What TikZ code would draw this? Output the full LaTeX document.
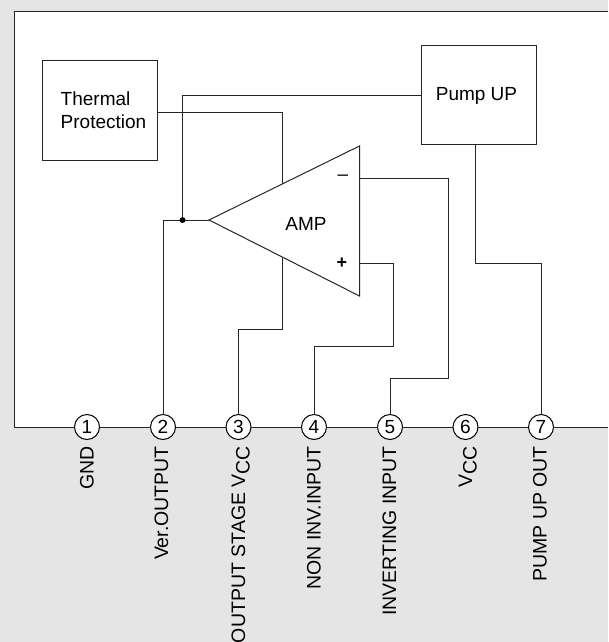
\documentclass[tikz,border=0pt]{standalone}
\usepackage{fontspec}
\setmainfont{Liberation Sans}
\tikzset{
  wire/.style={draw=black!85,line width=1pt},
  blockbox/.style={draw=black!85,line width=1pt,fill=white,inner sep=0pt},
  pin/.style={circle,draw=black,line width=1pt,fill=white,minimum size=25pt,inner sep=0pt,font=\fontsize{19}{20}\selectfont},
  caption/.style={inner sep=0pt,font=\fontsize{19}{23}\selectfont},
  pinlabel/.style={inner sep=0pt,font=\fontsize{19.5}{23}\selectfont,rotate=90,anchor=base east},
}
\newcommand{\vccsub}{V\raisebox{-4.5pt}{CC}}
\begin{document}
\begin{tikzpicture}[x=1pt,y=-1pt]
\useasboundingbox (0,0) rectangle (608,642);
\fill[black!10] (0,0) rectangle (608,642);
\fill[white] (14,11.5) rectangle (608,427);
\draw[wire] (608,11.5) -- (14.5,11.5) -- (14.5,427.5) -- (608,427.5);
% blocks
\node[blockbox,minimum width=115pt,minimum height=99pt] (thermal) at (99.5,110.5) {};
\node[blockbox,minimum width=115pt,minimum height=98.5pt] (pump) at (478.5,95) {};
\node[caption,align=left] (thermaltext) at (103.5,110.5) {Thermal\\Protection};
\node[caption,anchor=base] (pumptext) at (476.5,100.5) {Pump UP};
% amplifier
\coordinate (tip) at (209,220);
\coordinate (top) at (359.5,146);
\coordinate (bot) at (359.5,296);
\draw[wire,fill=white,line join=miter] (tip) -- (top) -- (bot) -- cycle;
\node[caption] (amp) at (306,224) {AMP};
\node[caption] (minus) at (343,177.5) {–};
\node[caption,font=\bfseries\fontsize{18}{20}\selectfont] (plus) at (342,263) {+};
% pins
\foreach \n/\x in {1/87,2/163,3/238.5,4/314,5/390,6/465.5,7/541}
  \node[pin] (p\n) at (\x,427) {\n};
% junction coordinates
\coordinate (ampminus) at (359.5,178);
\coordinate (ampplus) at (359.5,263);
\coordinate (amptop) at (282.5,183.5);
\coordinate (ampbot) at (282.5,258);
\coordinate (jn) at (182.5,220);
% connectors
\draw[wire] (thermal.east |- 0,112.5) -- (282.5,112.5) -- (amptop);
\draw[wire] (pump.west) -- (jn |- pump.west) -- (jn);
\draw[wire] (tip) -- (p2.north |- tip) -- (p2.north);
\fill[black] (jn) circle (3pt);
\draw[wire] (ampbot) -- (282.5,329) -- (p3.north |- 0,329) -- (p3.north);
\draw[wire] (ampplus) -- (393.5,263) -- (393.5,346) -- (p4.north |- 0,346) -- (p4.north);
\draw[wire] (ampminus) -- (448.5,178) -- (448.5,378) -- (p5.north |- 0,378) -- (p5.north);
\draw[wire] (pump.south -| 475.5,0) -- (475.5,263) -- (p7.north |- 0,263) -- (p7.north);
% pin labels
\node[pinlabel] (l1) at (93.5,446) {GND};
\node[pinlabel] (l2) at (168,446) {Ver.OUTPUT};
\node[pinlabel] (l3) at (245,446) {OUTPUT STAGE \vccsub};
\node[pinlabel] (l4) at (320.5,446) {NON INV.INPUT};
\node[pinlabel] (l5) at (396,446) {INVERTING INPUT};
\node[pinlabel] (l6) at (472,446) {\vccsub};
\node[pinlabel] (l7) at (546.7,446) {PUMP UP OUT};
\end{tikzpicture}
\end{document}
